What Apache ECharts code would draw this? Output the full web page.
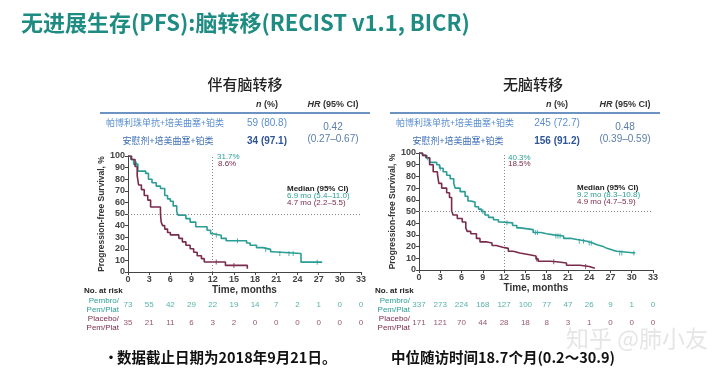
<!DOCTYPE html>
<html><head><meta charset="utf-8">
<script src="https://cdn.jsdelivr.net/npm/echarts@6/dist/echarts.min.js"></script>
<style>html,body{margin:0;padding:0;background:#fff}#c{width:720px;height:373px}</style>
</head><body><div id="c"></div>
<script>
// ---------- data ----------
const xTicks = [0,3,6,9,12,15,18,21,24,27,30,33];
const leftPembro = [[0,100],[0.4,97],[0.8,93],[1.4,87],[2.5,85],[2.9,80],[3.4,77],[4.0,74],[4.6,72],[5.2,66],[5.6,63],[6.0,61],[6.4,57],[6.9,52],[7.1,49],[8.2,46],[8.8,43],[9.6,39],[11.2,36],[11.7,33],[12.0,31.7],[13.2,29],[13.9,27],[16.8,25],[17.3,23],[18.2,21],[19.1,19.5],[20.2,17.5],[20.5,16],[24.5,8.5],[27.5,8.5]];
const leftPlacebo = [[0,100],[0.5,97],[1.0,91],[1.3,83],[1.5,75],[1.9,71],[2.3,66],[2.8,62],[3.2,56],[4.6,50],[4.7,43],[4.9,40],[5.2,37],[5.6,34],[6.0,32],[7.2,29],[7.7,26],[8.2,23],[8.8,20],[9.3,17],[9.8,14],[10.4,11.5],[10.8,8.6],[13.8,5.7],[16.9,2.9],[17.0,2.9]];
const rightPembro = [[0,100],[0.5,98],[1.0,96],[1.5,92],[2.5,90],[2.9,87],[3.4,84],[3.9,81],[4.4,78],[4.9,74],[5.1,70],[5.8,67],[6.5,63],[6.9,59],[7.3,58],[7.9,54],[8.4,52],[8.8,50],[9.3,47],[9.8,45],[10.5,43],[11.2,41],[11.6,40.3],[13.2,38],[13.8,36],[14.3,34.5],[16.1,32],[17.2,31],[18.0,30],[19.0,29],[20.4,27],[21.5,26],[22.3,24.5],[23.7,23],[24.5,21.5],[25.1,20],[26.0,18.5],[26.5,17],[27.3,16],[27.9,14.5],[30.5,14.5]];
const rightPlacebo = [[0,100],[0.5,98],[1.0,96],[1.5,90],[2.0,84],[2.6,82],[2.8,74],[3.2,70],[3.9,66],[4.3,62],[4.6,51],[4.8,47],[5.4,44],[6.1,41],[6.6,36],[6.8,33],[7.3,31],[8.1,27],[8.6,24],[9.6,23],[10.3,21],[10.9,19.5],[11.8,18.5],[12.6,16],[13.3,14.5],[14.2,13],[15.6,12],[16.5,9.5],[16.8,7.5],[18.5,7],[19.4,6],[20.8,4],[22.7,3],[24.0,1.5],[24.8,1.5]];
// censor marks [time, survival]
const censorLeftPembro = [[1.2,93],[12.5,31.7],[15.5,27],[19.5,19.5],[21.5,16],[22.8,16],[23.4,16],[26.8,8.5]];
const censorLeftPlacebo = [[12.5,8.6],[15.0,5.7]];
const censorRightPembro = [[1.2,96],[3.0,87],[9.0,50],[12.4,40.3],[16.4,32],[16.7,32],[19.3,29],[19.6,29],[19.9,29],[22.6,24.5],[23.2,24.5],[24.0,23],[24.3,23],[28.3,14.5],[28.6,14.5],[30.3,14.5]];
const censorRightPlacebo = [[16.6,9.5],[19.0,7],[23.5,3]];
const riskLeftPembro = [73,55,42,29,22,19,14,7,2,1,0,0];
const riskLeftPlacebo = [35,21,11,6,3,2,0,0,0,0,0,0];
const riskRightPembro = [337,273,224,168,127,100,77,47,26,9,1,0];
const riskRightPlacebo = [171,121,70,44,28,18,8,3,1,0,0,0];
const riskRows = ['Pembro','Placebo'];

// ---------- style ----------
const TEAL = '#2a9d94', MAROON = '#7a2b4c', AX = '#333';
const FONT = '"Liberation Sans", Arial, sans-serif';
const CJK = '"Noto Sans CJK SC", sans-serif';

const chart = echarts.init(document.getElementById('c'), null, {renderer:'canvas'});

const grids = [
  {left:128, top:156, width:233, height:116},
  {left:419, top:153, width:234, height:117},
  {left:128, top:296, width:233, height:36},
  {left:419, top:296, width:234, height:36}
];
function kmX(gi){return {gridIndex:gi, type:'value', min:0, max:33, interval:3,
  name:'Time, months', nameLocation:'middle', nameGap:13,
  nameTextStyle:{fontFamily:FONT, fontSize:10, fontWeight:'bold', color:AX},
  axisLine:{lineStyle:{color:'#444', width:1}}, axisTick:{length:3, lineStyle:{color:'#444'}},
  axisLabel:{fontFamily:FONT, fontSize:9, fontWeight:'bold', color:'#444', margin:3}, splitLine:{show:false}};}
function kmY(gi){return {gridIndex:gi, type:'value', min:0, max:100, interval:10,
  name:'Progression-free Survival, %', nameLocation:'middle', nameGap:18, nameRotate:90,
  nameTextStyle:{fontFamily:FONT, fontSize:8.5, fontWeight:'bold', color:AX},
  axisLine:{show:true, lineStyle:{color:'#444', width:1}}, axisTick:{show:true, length:3, lineStyle:{color:'#444'}},
  axisLabel:{fontFamily:FONT, fontSize:9, fontWeight:'bold', color:'#444', margin:3}, splitLine:{show:false}};}
function riskX(gi){return {gridIndex:gi, type:'value', min:0, max:33, interval:3, show:false};}
function riskY(gi){return {gridIndex:gi, type:'category', data:riskRows, inverse:true,
  axisLine:{show:false}, axisTick:{show:false},
  axisLabel:{margin:9, fontFamily:FONT, fontSize:8, lineHeight:9, align:'right',
    formatter:v=> v==='Pembro' ? '{a|Pembro/}\n{a|Pem/Plat}' : '{b|Placebo/}\n{b|Pem/Plat}',
    rich:{a:{color:TEAL, fontSize:8, lineHeight:9, fontFamily:FONT}, b:{color:MAROON, fontSize:8, lineHeight:9, fontFamily:FONT}}}};}

function km(data, color, xi, withRef){
  const s = {type:'line', step:'end', xAxisIndex:xi, yAxisIndex:xi, data:data, showSymbol:false, symbol:'none',
    lineStyle:{color:color, width:1.6}, itemStyle:{color:color}, silent:true, animation:false, z:withRef?3:4};
  if(withRef){
    s.markLine = {silent:true, symbol:['none','none'], label:{show:false},
      lineStyle:{color:'#888', type:[1,2], width:1},
      data:[{xAxis:12},{yAxis:50}]};
  }
  return s;
}
function censor(data, color, xi){
  return {type:'scatter', xAxisIndex:xi, yAxisIndex:xi, data:data, silent:true, animation:false,
    symbol:'rect', symbolSize:[1,5], itemStyle:{color:color}, z:5};
}
function risk(values, row, color, xi){
  return {type:'scatter', xAxisIndex:xi, yAxisIndex:xi, symbolSize:0, silent:true, animation:false,
    data: xTicks.map((t,i)=>({value:[t,row], n:values[i]})),
    label:{show:true, position:'inside', formatter:p=>String(p.data.n), color:color, fontSize:8, fontFamily:FONT}};
}

function txt(x,y,text,opt){
  return Object.assign({type:'text', x:x, y:y, silent:true, style:Object.assign({text:text, fontFamily:FONT, fontSize:9, fill:AX, textVerticalAlign:'middle'}, opt||{})});
}
function table(cx, labelCx, nCx, hrCx, lineX1, lineX2, n1, n2, hr1, hr2, title){
  return [
    txt(cx, 84, title, {fontFamily:CJK, fontSize:15, fill:'#222', textAlign:'center', fontWeight:'500'}),
    txt(nCx, 105, '{i|n} (%)', {textAlign:'center', fontSize:9, fontWeight:'bold', fill:'#333',
      rich:{i:{fontStyle:'italic', fontWeight:'bold', fontSize:9, fontFamily:FONT, fill:'#333'}}}),
    txt(hrCx, 105, '{i|HR} (95% CI)', {textAlign:'center', fontSize:9, fontWeight:'bold', fill:'#333',
      rich:{i:{fontStyle:'italic', fontWeight:'bold', fontSize:9, fontFamily:FONT, fill:'#333'}}}),
    {type:'line', silent:true, shape:{x1:lineX1, y1:113, x2:lineX2, y2:113}, style:{stroke:'#3d6fae', lineWidth:1.5}},
    txt(labelCx, 123, '帕博利珠单抗+培美曲塞+铂类', {fontFamily:CJK, fontSize:9, fill:'#5b8fd0', textAlign:'center'}),
    txt(labelCx+3, 141, '安慰剂+培美曲塞+铂类', {fontFamily:CJK, fontSize:9, fill:'#3f6fb8', textAlign:'center'}),
    txt(nCx, 123, n1, {fill:'#5b8fd0', textAlign:'center', fontSize:10}),
    txt(nCx, 141, n2, {fill:'#2f5597', textAlign:'center', fontSize:10, fontWeight:'bold'}),
    txt(hrCx, 127, hr1, {fill:'#5a7ea8', textAlign:'center', fontSize:10}),
    txt(hrCx, 139, hr2, {fill:'#5a7ea8', textAlign:'center', fontSize:10})
  ];
}

const graphics = [].concat(
  table(245, 165, 267, 333, 100, 370, '59 (80.8)', '34 (97.1)', '0.42', '(0.27–0.67)', '伴有脑转移'),
  table(533, 455, 557, 625, 390, 660, '245 (72.7)', '156 (91.2)', '0.48', '(0.39–0.59)', '无脑转移'),
  [
    txt(217, 157, '31.7%', {fill:TEAL, fontSize:8}),
    txt(218, 164, '8.6%', {fill:MAROON, fontSize:8}),
    txt(508, 158, '40.3%', {fill:TEAL, fontSize:8}),
    txt(508, 164, '18.5%', {fill:MAROON, fontSize:8}),
    txt(287, 189, 'Median (95% CI)', {fontSize:8, fontWeight:'bold', fill:'#222'}),
    txt(287, 196, '6.9 mo (5.4–11.0)', {fontSize:8, fill:TEAL}),
    txt(287, 203, '4.7 mo (2.2–5.5)', {fontSize:8, fill:MAROON}),
    txt(577, 188, 'Median (95% CI)', {fontSize:8, fontWeight:'bold', fill:'#222'}),
    txt(577, 195, '9.2 mo (8.3–10.8)', {fontSize:8, fill:TEAL}),
    txt(577, 202, '4.9 mo (4.7–5.9)', {fontSize:8, fill:MAROON}),
    txt(84, 291, 'No. at risk', {fontSize:8, fontWeight:'bold', fill:'#222'}),
    txt(375, 291, 'No. at risk', {fontSize:8, fontWeight:'bold', fill:'#222'}),
    txt(566, 338, '知乎 @肺小友', {fontFamily:CJK, fontSize:23, fill:'rgba(160,160,160,0.28)'}),
    txt(104, 357, '•', {fontFamily:CJK, fontSize:14, fill:'#111', fontWeight:'bold'}),
    txt(117, 357, '数据截止日期为2018年9月21日。', {fontFamily:CJK, fontSize:14.5, fill:'#111', fontWeight:'bold'}),
    txt(391, 357, '中位随访时间18.7个月(0.2～30.9)', {fontFamily:CJK, fontSize:14.5, fill:'#111', fontWeight:'bold'})
  ]
);

chart.setOption({
  animation:false,
  backgroundColor:'#ffffff',
  title:{text:'无进展生存(PFS):脑转移(RECIST v1.1, BICR)', left:16, top:7,
    textStyle:{fontFamily:CJK, fontSize:22, fontWeight:'bold', color:'#1e8c82'}},
  grid:grids,
  xAxis:[kmX(0), kmX(1), riskX(2), riskX(3)],
  yAxis:[kmY(0), kmY(1), riskY(2), riskY(3)],
  series:[
    km(leftPembro, TEAL, 0, true),
    km(leftPlacebo, MAROON, 0, false),
    km(rightPembro, TEAL, 1, true),
    km(rightPlacebo, MAROON, 1, false),
    censor(censorLeftPembro, TEAL, 0),
    censor(censorLeftPlacebo, MAROON, 0),
    censor(censorRightPembro, TEAL, 1),
    censor(censorRightPlacebo, MAROON, 1),
    risk(riskLeftPembro, 'Pembro', TEAL, 2),
    risk(riskLeftPlacebo, 'Placebo', MAROON, 2),
    risk(riskRightPembro, 'Pembro', TEAL, 3),
    risk(riskRightPlacebo, 'Placebo', MAROON, 3)
  ],
  graphic:graphics
});
</script></body></html>
